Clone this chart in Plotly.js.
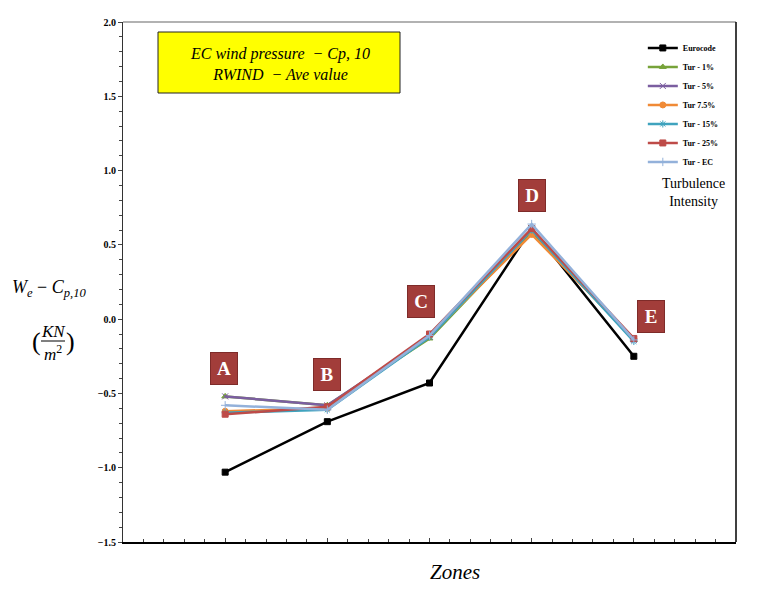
<!DOCTYPE html>
<html>
<head>
<meta charset="utf-8">
<script src="https://cdn.plot.ly/plotly-3.0.1.min.js"></script>
<style>
  body { margin: 0; background: #fff; }
  #chart { width: 760px; height: 592px; }
</style>
</head>
<body>
<div id="chart"></div>
<script>
// zones on the x axis (1..5)
var zones = ['A', 'B', 'C', 'D', 'E'];
var zoneX = [1, 2, 3, 4, 5];

// Cp,10 values
var eurocode = [-1.03, -0.69, -0.43, 0.61, -0.25];
var tur1     = [-0.52, -0.58, -0.13, 0.59, -0.14];
var tur5     = [-0.52, -0.58, -0.12, 0.60, -0.14];
var tur75    = [-0.62, -0.60, -0.11, 0.57, -0.13];
var tur15    = [-0.63, -0.61, -0.12, 0.60, -0.15];
var tur25    = [-0.64, -0.59, -0.10, 0.61, -0.13];
var turEC    = [-0.58, -0.61, -0.11, 0.64, -0.14];

// where the zone badges sit
var badgeX = [0.99, 2.0, 2.92, 4.0, 5.17];
var badgeY = [-0.33, -0.37, 0.12, 0.83, 0.02];

var serif = 'Liberation Serif, Times New Roman, serif';

var mkTrace = function(name, y, color, symbol) {
	return {
		x: zoneX,
		y: y,
		name: name,
		type: 'scatter',
		mode: 'lines+markers',
		line: { color: color, width: 2.5 },
		marker: { color: color, symbol: symbol, size: 6, line: { color: color, width: 1 } }
	};
};

var data = [
	mkTrace('Eurocode', eurocode, '#000000', 'square'),
	mkTrace('Tur - 1%', tur1, '#77A33A', 'triangle-up'),
	mkTrace('Tur - 5%', tur5, '#7B5EA0', 'x-thin-open'),
	mkTrace('Tur 7.5%', tur75, '#F08A36', 'circle'),
	mkTrace('Tur - 15%', tur15, '#3FA3BE', 'asterisk-open'),
	mkTrace('Tur - 25%', tur25, '#BE4B48', 'square'),
	mkTrace('Tur - EC', turEC, '#93B1DA', 'cross-thin-open')
];

// text placed by pixel offset from the plot's top-left corner
var pxNote = function(dx, dy, text, size) {
	return {
		xref: 'paper', yref: 'paper', x: 0, y: 1, xshift: dx, yshift: -dy,
		xanchor: 'center', yanchor: 'middle',
		text: text, showarrow: false,
		font: { family: serif, size: size, color: '#000' }
	};
};

var annotations = [];
for (var i = 0; i < zones.length; i++) {
	annotations.push({
		x: badgeX[i], y: badgeY[i], xref: 'x', yref: 'y',
		text: '<b>' + zones[i] + '</b>', showarrow: false,
		font: { family: serif, size: 19, color: '#ffffff' },
		bgcolor: '#A23D3A', bordercolor: '#7E2B29', borderwidth: 1,
		width: 24, height: 29, valign: 'middle'
	});
}

// title box text
annotations.push(pxNote(157, 42, '<i>EC wind pressure  − Cp, 10</i><br><i>RWIND  − Ave value</i>', 16));
annotations.push(pxNote(570, 170, 'Turbulence<br>Intensity', 14));

// y axis title, drawn as pieces
annotations.push(pxNote(-74, 266, '<i>W<sub>e</sub></i> − <i>C<sub>p,10</sub></i>', 18));
annotations.push(pxNote(-70, 309, '<i>KN</i>', 17));
annotations.push(pxNote(-70, 331, '<i>m</i><sup>2</sup>', 17));
annotations.push(pxNote(-87, 319, '(', 26));
annotations.push(pxNote(-53, 319, ')', 26));
annotations.push(pxNote(332, 550, '<i>Zones</i>', 21));

var layout = {
	width: 760,
	height: 592,
	margin: { l: 123, r: 24, t: 22, b: 50 },
	paper_bgcolor: '#ffffff',
	plot_bgcolor: '#ffffff',
	showlegend: true,
	legend: {
		x: 0.848, y: 0.978, xanchor: 'left', yanchor: 'top',
		font: { family: serif, size: 8, color: '#000', weight: 'bold' },
		itemwidth: 30, tracegroupgap: 0, bgcolor: 'rgba(0,0,0,0)'
	},
	xaxis: {
		range: [0, 6], showgrid: false, zeroline: false, showticklabels: false,
		showline: true, linecolor: '#000', linewidth: 1.5,
		ticks: 'inside', tick0: 0, dtick: 1, ticklen: 4, tickcolor: '#444',
		minor: { ticks: 'inside', dtick: 0.2, ticklen: 3, tickcolor: '#444' },
		fixedrange: true
	},
	yaxis: {
		range: [-1.5, 2.0], showgrid: false, zeroline: false,
		showline: true, linecolor: '#333', linewidth: 1,
		ticks: 'outside', tick0: 0, dtick: 0.5, ticklen: 4, tickcolor: '#444',
		minor: { ticks: 'outside', dtick: 0.1, ticklen: 3, tickcolor: '#444' },
		tickformat: '.1f',
		tickfont: { family: serif, size: 10, color: '#000', weight: 'bold' },
		fixedrange: true
	},
	shapes: [
		{ type: 'line', xref: 'paper', yref: 'paper', x0: 0, x1: 1, y0: 1, y1: 1,
		  line: { color: '#999', width: 1.5 } },
		{ type: 'line', xref: 'paper', yref: 'paper', x0: 1, x1: 1, y0: 0, y1: 1,
		  line: { color: '#000', width: 1.5 } },
		// yellow title box
		{ type: 'rect', xref: 'paper', yref: 'paper',
		  x0: (158 - 123) / 613, x1: (400 - 123) / 613,
		  y0: (542 - 93) / 520, y1: (542 - 32) / 520,
		  fillcolor: '#FFFF00', line: { color: '#222', width: 1 }, layer: 'below' },
		// fraction bar of the unit
		{ type: 'line', xref: 'paper', yref: 'paper',
		  x0: -82 / 613, x1: -58 / 613, y0: (542 - 341) / 520, y1: (542 - 341) / 520,
		  line: { color: '#000', width: 1 } }
	],
	annotations: annotations
};

Plotly.newPlot('chart', data, layout, { displayModeBar: false, staticPlot: true });
</script>
</body>
</html>
